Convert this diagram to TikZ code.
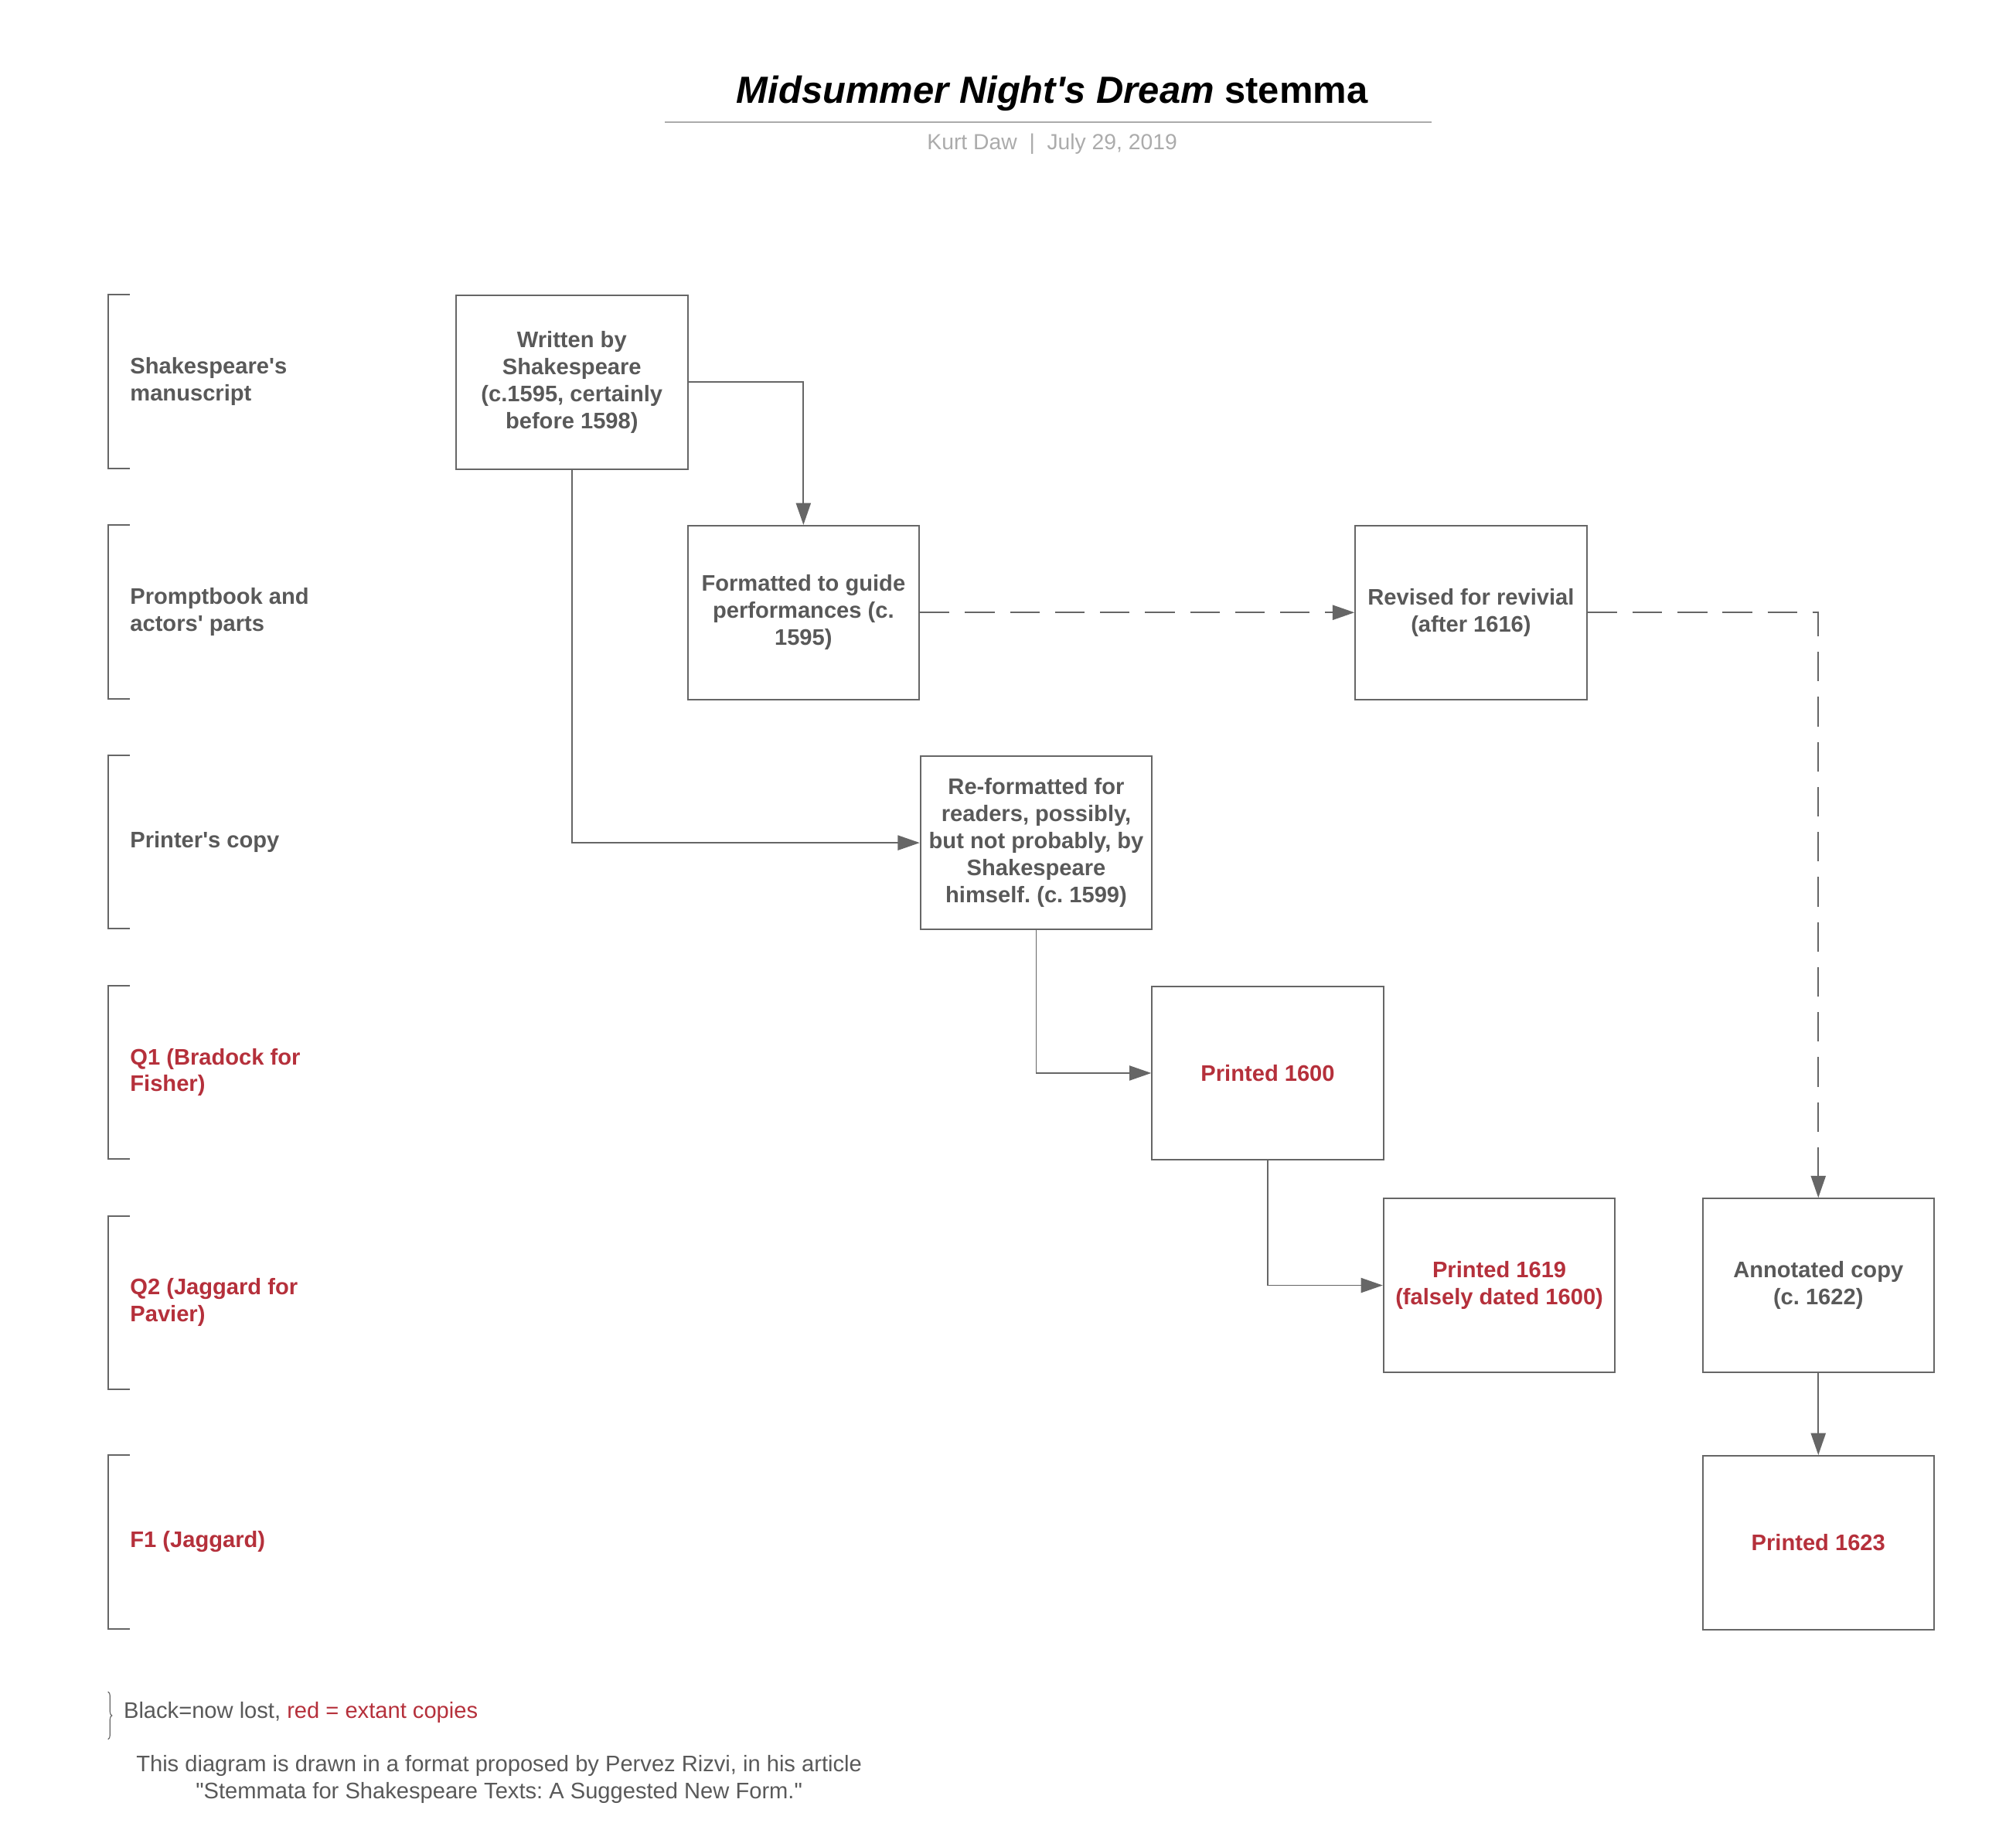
\documentclass[tikz,border=0pt]{standalone}
\usepackage{fontspec}
\setmainfont{Liberation Sans}[Ligatures=TeXOff]
\usetikzlibrary{arrows.meta,decorations.pathreplacing}
\definecolor{txtgray}{HTML}{595959}
\definecolor{linegray}{HTML}{666666}
\definecolor{redtxt}{HTML}{B5303B}
\definecolor{subgray}{HTML}{ABABAB}
\frenchspacing
\begin{document}
\frenchspacing
\begin{tikzpicture}[x=1pt,y=-1pt,
  box/.style={draw=linegray,line width=1.2pt,minimum width=180pt,minimum height=135pt,
    inner sep=0pt,align=center,font=\fontsize{17.5}{21}\selectfont\bfseries,text=txtgray,anchor=north west},
  redbox/.style={box,text=redtxt},
  rowlabel/.style={anchor=west,align=left,inner sep=0pt,font=\fontsize{17.5}{21}\selectfont\bfseries,text=txtgray},
  redlabel/.style={rowlabel,text=redtxt},
  bracket/.style={draw=linegray,line width=1.2pt},
  conn/.style={draw=linegray,line width=1.1pt,-{Triangle[length=17pt,width=11.5pt]}},
  dconn/.style={conn,dash pattern=on 23pt off 12pt},
  plain/.style={inner sep=0pt,font=\fontsize{17.5}{21}\selectfont,text=txtgray}
]
\useasboundingbox (0,0) rectangle (1567.3,1435.1);

% title
\node[anchor=base,inner sep=0pt] (title) at (818,80) {\fontsize{29.4}{35}\selectfont\bfseries\itshape Midsummer Night's Dream\upshape\ stemma};
\draw[subgray,line width=1.5pt] (517,95) -- (1113,95);
\node[anchor=base,inner sep=0pt,text=subgray,font=\fontsize{17}{20}\selectfont] (subtitle) at (818,116) {Kurt Daw\ \ |\ \ July 29, 2019};

% row brackets
\draw[bracket] (101,229) -| (84,364) -- (101,364);
\draw[bracket] (101,408) -| (84,543) -- (101,543);
\draw[bracket] (101,587) -| (84,722) -- (101,722);
\draw[bracket] (101,766) -| (84,901) -- (101,901);
\draw[bracket] (101,945) -| (84,1080) -- (101,1080);
\draw[bracket] (101,1131) -| (84,1266) -- (101,1266);

% row labels
\node[rowlabel] (l1) at (101,296.5) {Shakespeare's\\manuscript};
\node[rowlabel] (l2) at (101,475.5) {Promptbook and\\actors' parts};
\node[rowlabel] (l3) at (101,654.5) {Printer's copy};
\node[redlabel] (l4) at (101,833.5) {Q1 (Bradock for\\Fisher)};
\node[redlabel] (l5) at (101,1012.5) {Q2 (Jaggard for\\Pavier)};
\node[redlabel] (l6) at (101,1198.5) {F1 (Jaggard)};

% boxes
\node[box] (A) at (354,229) {Written by\\Shakespeare\\(c.1595, certainly\\before 1598)};
\node[box] (B) at (534,408) {Formatted to guide\\performances (c.\\1595)};
\node[box] (C) at (1053,408) {Revised for revivial\\(after 1616)};
\node[box] (D) at (715,587) {Re-formatted for\\readers, possibly,\\but not probably, by\\Shakespeare\\himself. (c. 1599)};
\node[redbox] (E) at (895,766) {Printed 1600};
\node[redbox] (F) at (1075,931) {Printed 1619\\(falsely dated 1600)};
\node[box] (G) at (1323,931) {Annotated copy\\(c. 1622)};
\node[redbox] (H) at (1323,1131) {Printed 1623};

% connectors
\draw[conn] (A.east) -| (B.north);
\draw[conn] (A.south) |- (D.west);
\draw[dconn] (B.east) -- (C.west);
\draw[dconn] (C.east) -| (G.north);
\draw[conn] (D.south) |- (E.west);
\draw[conn] (E.south) |- (F.west);
\draw[conn] (G.south) -- (H.north);

% legend
\draw[linegray,line width=0.7pt,decorate,decoration={brace,amplitude=3pt}] (84,1315) -- (84,1352);
\node[plain,anchor=west] (legend) at (96,1331) {Black=now lost, \textcolor{redtxt}{red = extant copies}};
\node[plain,align=center] (footer) at (388,1383) {This diagram is drawn in a format proposed by Pervez Rizvi, in his article\\"Stemmata for Shakespeare Texts: A Suggested New Form."};
\end{tikzpicture}
\end{document}
